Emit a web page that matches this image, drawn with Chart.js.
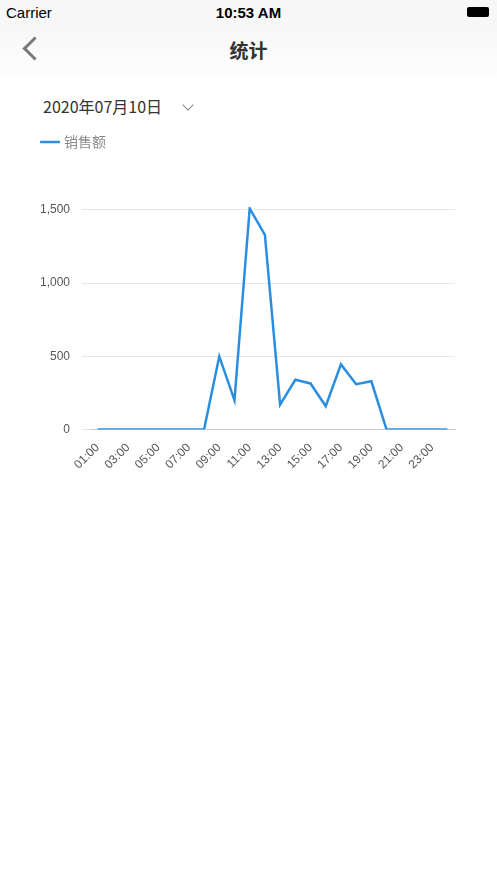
<!DOCTYPE html>
<html>
<head>
<meta charset="utf-8">
<script src="https://cdn.jsdelivr.net/npm/chart.js@4"></script>
<style>
  body { margin: 0; width: 497px; height: 883px; background: #fff; font-family: "Noto Sans CJK SC", "Liberation Sans", sans-serif; overflow: hidden; }
  .status { height: 26px; position: relative; font-family: "Liberation Sans", sans-serif; font-size: 15px; background: #f7f7f7; }
  .status .carrier { position: absolute; left: 6px; top: 4px; }
  .status .time { position: absolute; left: 0; right: 0; top: 4px; text-align: center; font-weight: bold; }
  .status .bat { position: absolute; right: 8px; top: 7px; width: 22px; height: 10px; background: #000; border-radius: 2px; }
  .nav { height: 48px; position: relative; background: linear-gradient(#f7f7f7, #fdfdfd); }
  .nav .title { position: absolute; left: 0; right: 0; top: 10px; text-align: center; font-size: 19px; font-weight: bold; color: #333; }
  .nav .back { position: absolute; left: 26px; top: 14px; width: 14px; height: 14px; border-left: 3px solid #777; border-bottom: 3px solid #777; transform: rotate(45deg); }
  .date { position: absolute; left: 43px; top: 94px; font-size: 16px; color: #333; }
  .date .arrow { display: inline-block; margin-left: 22px; width: 7px; height: 7px; border-right: 1.5px solid #888; border-bottom: 1.5px solid #888; transform: rotate(45deg); position: relative; top: -4px; }
  .wrap { position: absolute; left: 0; top: 125px; width: 497px; height: 350px; }
</style>
</head>
<body>
<div class="status"><span class="carrier">Carrier</span><span class="time">10:53 AM</span><span class="bat"></span></div>
<div class="nav"><span class="back"></span><span class="title">统计</span></div>
<div class="date">2020年07月10日<span class="arrow"></span></div>
<div class="wrap"><canvas id="chart"></canvas></div>
<script>
const hours = ['01:00','02:00','03:00','04:00','05:00','06:00','07:00','08:00','09:00','10:00','11:00','12:00',
               '13:00','14:00','15:00','16:00','17:00','18:00','19:00','20:00','21:00','22:00','23:00','24:00'];
const sales = [0,0,0,0,0,0,0,0,500,200,1510,1330,170,340,315,160,445,310,330,0,0,0,0,0];
const yTicks = [0, 500, 1000, 1500];
const seriesName = '销售额';

// push the plot down under the legend
const legendGap = {
    id: 'legendGap',
    beforeInit(chart) {
        const origFit = chart.legend.fit;
        chart.legend.fit = function () {
            origFit.bind(chart.legend)();
            this.height += 48;
        };
    }
};

new Chart(document.getElementById('chart'), {
    type: 'line',
    data: {
        labels: hours,
        datasets: [{
            label: seriesName,
            data: sales,
            borderColor: '#2a8ee0',
            backgroundColor: '#2a8ee0',
            borderWidth: 2.5,
            pointRadius: 0,
            tension: 0
        }]
    },
    plugins: [legendGap],
    options: {
        responsive: true,
        maintainAspectRatio: false,
        animation: false,
        layout: { padding: { left: 33, right: 42, top: 0, bottom: 0 } },
        plugins: {
            legend: {
                align: 'start',
                labels: {
                    usePointStyle: true,
                    pointStyle: 'line',
                    color: '#888',
                    font: { size: 14, family: 'Noto Sans CJK SC' },
                    padding: 10
                }
            },
            tooltip: { enabled: false }
        },
        scales: {
            x: {
                offset: true,
                grid: { display: false },
                border: { color: '#ccc' },
                ticks: {
                    autoSkip: false,
                    maxRotation: 45,
                    minRotation: 45,
                    color: '#555',
                    font: { size: 12, family: 'Liberation Sans' },
                    callback: (v, i) => i % 2 === 0 ? hours[i] : ''
                }
            },
            y: {
                min: 0,
                max: 1520,
                afterBuildTicks: s => { s.ticks = yTicks.map(v => ({ value: v })); },
                afterFit: s => { s.width = 57; },
                grid: { color: '#e6e6e6' },
                border: { display: false },
                ticks: {
                    color: '#555',
                    padding: 12,
                    font: { size: 12, family: 'Liberation Sans' },
                    callback: v => Number(v).toLocaleString('en-US')
                }
            }
        }
    }
});
</script>
</body>
</html>
